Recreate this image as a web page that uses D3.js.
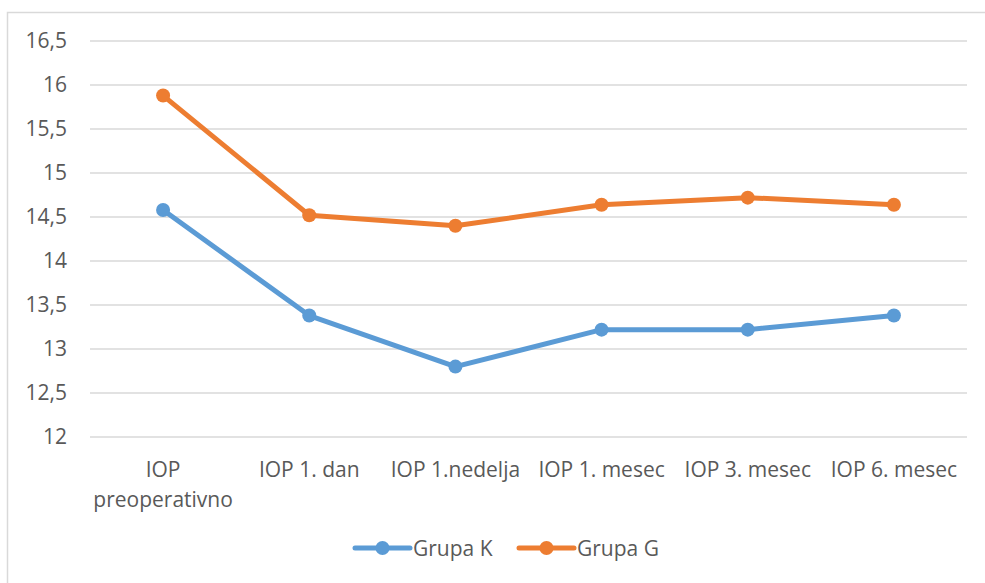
<!DOCTYPE html>
<html>
<head>
<meta charset="utf-8">
<script src="https://cdn.jsdelivr.net/npm/d3@7"></script>
<style>
  body { margin: 0; background: #fff; }
  svg text { font-family: "Open Sans", sans-serif; fill: #595959; }
</style>
</head>
<body>
<svg id="chart" width="985" height="583"></svg>
<script>
// categories and series
var categories = ["IOP preoperativno", "IOP 1. dan", "IOP 1.nedelja", "IOP 1. mesec", "IOP 3. mesec", "IOP 6. mesec"];
var grupaK = [14.58, 13.38, 12.8, 13.22, 13.22, 13.38];
var grupaG = [15.88, 14.52, 14.4, 14.64, 14.72, 14.64];
var yTicks = [12, 12.5, 13, 13.5, 14, 14.5, 15, 15.5, 16, 16.5];

var series = [
  { name: "Grupa K", values: grupaK, color: "#5B9BD5" },
  { name: "Grupa G", values: grupaG, color: "#ED7D31" }
];

var svg = d3.select("#chart");

// outer chart border
svg.append("rect")
  .attr("x", 7.5).attr("y", 12.5)
  .attr("width", 1000).attr("height", 600)
  .attr("fill", "none")
  .attr("stroke", "#d9d9d9")
  .attr("stroke-width", 1.5);

var margin = { left: 90, right: 18, top: 41, bottom: 146 };
var width = 985 - margin.left - margin.right,
    height = 583 - margin.top - margin.bottom;

var g = svg.append("g").attr("transform", "translate(" + margin.left + "," + margin.top + ")");

var x = d3.scaleBand().domain(categories).range([0, width]);
var y = d3.scaleLinear().domain([12, 16.5]).range([height, 0]);

// gridlines
g.append("g")
  .selectAll("line")
  .data(yTicks)
  .join("line")
  .attr("x1", 0).attr("x2", width)
  .attr("y1", function(d) { return y(d); })
  .attr("y2", function(d) { return y(d); })
  .attr("stroke", "#d9d9d9")
  .attr("stroke-width", 1.3);

// y axis labels
var yAxis = g.append("g")
  .call(d3.axisLeft(y).tickValues(yTicks).tickSize(0).tickPadding(23)
    .tickFormat(function(d) { return String(d).replace(".", ","); }));
yAxis.select(".domain").remove();
yAxis.selectAll("text").style("font-size", "21px").attr("fill", "#595959");

// x axis labels
var xAxis = g.append("g")
  .attr("transform", "translate(0," + height + ")")
  .call(d3.axisBottom(x).tickSize(0).tickPadding(0));
xAxis.select(".domain").remove();
xAxis.selectAll("text").remove();
xAxis.selectAll(".tick").each(function(d) {
  var t = d3.select(this).append("text")
    .attr("text-anchor", "middle")
    .style("font-size", "21px");
  var lines = d === "IOP preoperativno" ? ["IOP", "preoperativno"] : [d];
  lines.forEach(function(s, i) {
    t.append("tspan").attr("x", 0).attr("y", 40 + i * 30).text(s);
  });
});

var line = d3.line()
  .x(function(d, i) { return x(categories[i]) + x.bandwidth() / 2; })
  .y(function(d) { return y(d); });

series.forEach(function(s) {
  g.append("path")
    .datum(s.values)
    .attr("d", line)
    .attr("fill", "none")
    .attr("stroke", s.color)
    .attr("stroke-width", 5)
    .attr("stroke-linejoin", "round");
  g.selectAll(null)
    .data(s.values)
    .join("circle")
    .attr("cx", function(d, i) { return x(categories[i]) + x.bandwidth() / 2; })
    .attr("cy", function(d) { return y(d); })
    .attr("r", 7)
    .attr("fill", s.color);
});

// legend
var legend = svg.append("g").attr("transform", "translate(355,548)");
var legendX = [0, 164];
series.forEach(function(s, i) {
  var lg = legend.append("g").attr("transform", "translate(" + legendX[i] + ",0)");
  lg.append("line").attr("x1", 0).attr("x2", 55).attr("y1", 0).attr("y2", 0)
    .attr("stroke", s.color).attr("stroke-width", 5).attr("stroke-linecap", "round");
  lg.append("circle").attr("cx", 27.5).attr("cy", 0).attr("r", 7).attr("fill", s.color);
  lg.append("text").attr("x", 58).attr("y", 7.5).style("font-size", "21px").text(s.name);
});
</script>
</body>
</html>
